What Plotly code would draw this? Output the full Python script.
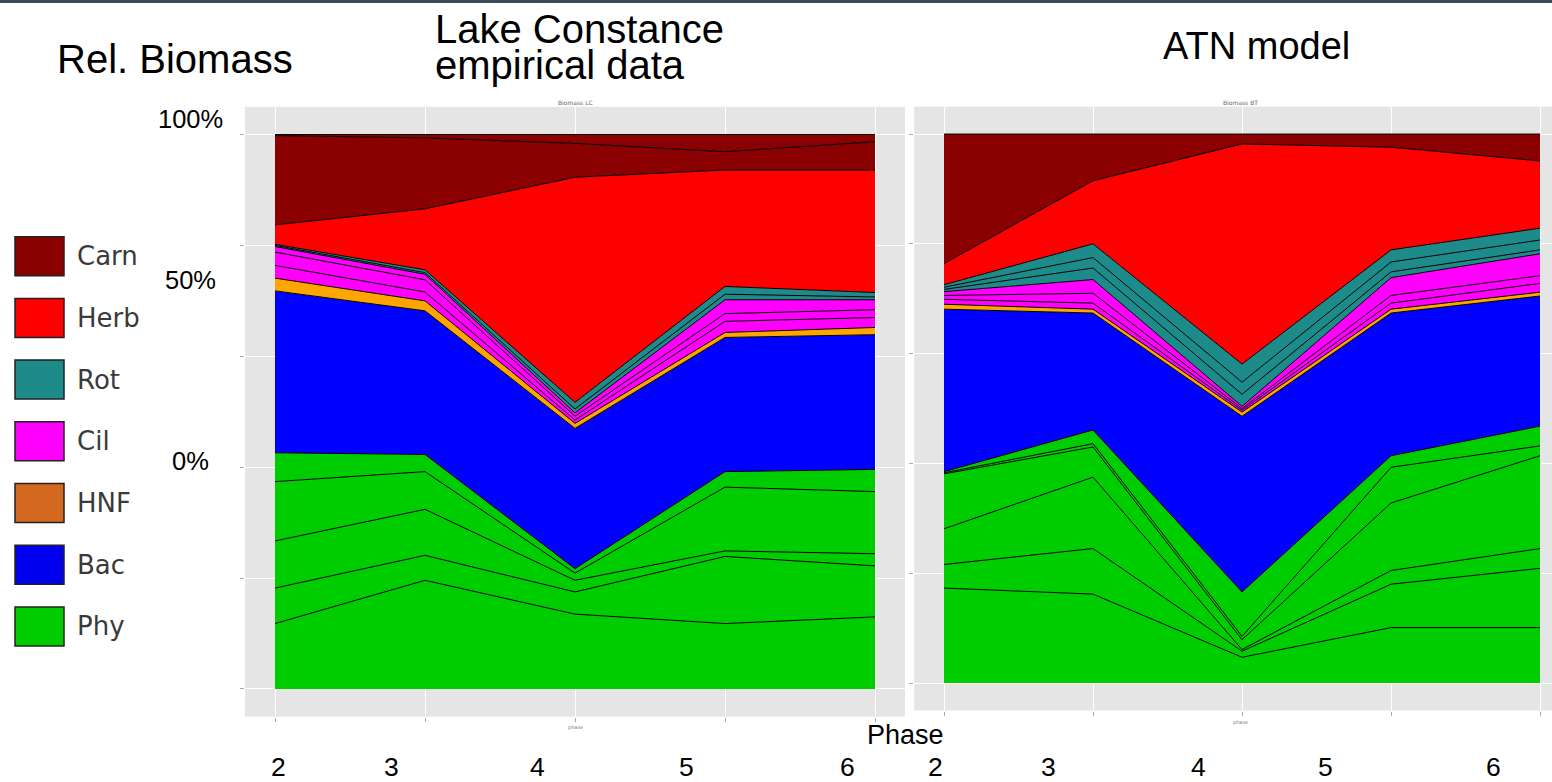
import plotly.graph_objects as go

# ---------------------------------------------------------------------------
# Data: relative biomass (%) of each sub-population, per phase.
# Each inner list is one stacked layer (bottom to top within its group).
# ---------------------------------------------------------------------------
phases = [2, 3, 4, 5, 6]
phase_labels = ["2", "3", "4", "5", "6"]
groups = ["Carn", "Herb", "Rot", "Cil", "HNF", "Bac", "Phy"]

# Lake Constance, empirical data
lc_phy = [
    [11.8, 19.6, 13.5, 11.8, 13.0],
    [6.4, 4.5, 4.0, 12.1, 9.2],
    [8.5, 8.3, 2.1, 1.0, 2.2],
    [10.7, 6.8, 1.3, 11.5, 11.2],
    [5.2, 3.1, 0.8, 2.8, 4.0],
]
lc_bac = [[29.2, 25.9, 25.3, 24.2, 24.3]]
lc_hnf = [[2.3, 1.8, 0.9, 0.9, 1.3]]
lc_cil = [
    [2.3, 1.6, 0.6, 2.0, 1.8],
    [2.4, 2.2, 0.7, 1.4, 1.4],
    [1.0, 1.0, 0.6, 2.5, 1.8],
]
lc_rot = [
    [0.2, 0.3, 0.7, 1.0, 0.5],
    [0.2, 0.5, 1.2, 1.4, 0.8],
]
lc_herb = [[3.5, 11.0, 40.6, 21.0, 22.1]]
lc_carn = [
    [16.1, 12.8, 6.1, 3.3, 5.1],
    [0.2, 0.6, 1.6, 3.1, 1.3],
]

# ATN model
atn_phy = [
    [17.3, 16.2, 4.7, 10.1, 10.1],
    [4.3, 8.3, 1.1, 7.9, 10.8],
    [6.5, 13.0, 0.3, 2.5, 3.6],
    [10.0, 5.5, 1.8, 12.3, 16.9],
    [0.2, 0.6, 0.6, 6.5, 1.8],
    [0.2, 2.5, 8.1, 2.1, 3.6],
]
atn_bac = [[29.6, 21.3, 32.0, 26.0, 23.7]]
atn_hnf = [[0.9, 0.7, 0.75, 0.7, 0.7]]
atn_cil = [
    [0.9, 1.1, 0.35, 1.1, 1.6],
    [0.7, 1.8, 0.3, 1.4, 1.4],
    [0.7, 2.5, 0.4, 3.25, 4.0],
]
atn_rot = [
    [0.4, 2.1, 2.2, 1.05, 0.7],
    [0.4, 1.9, 2.2, 1.8, 1.8],
    [0.45, 2.5, 3.3, 2.2, 2.15],
]
atn_herb = [[3.85, 11.5, 40.1, 18.7, 12.25]]
atn_carn = [[23.6, 8.5, 1.8, 2.4, 4.9]]

# ---------------------------------------------------------------------------
# Styling
# ---------------------------------------------------------------------------
W, H = 1552, 782
TEXT_FONT = "Liberation Sans, Arial, sans-serif"
LEGEND_FONT = "DejaVu Sans, Verdana, sans-serif"

fill_colors = {
    "Phy": "#00CD00",
    "Bac": "#0000FF",
    "HNF": "#FFA500",
    "Cil": "#FF00FF",
    "Rot": "#1E8B8B",
    "Herb": "#FF0000",
    "Carn": "#8B0000",
}
legend_colors = {
    "Carn": "#8B0000",
    "Herb": "#FF0000",
    "Rot": "#1E8B8B",
    "Cil": "#FF00FF",
    "HNF": "#D2691E",
    "Bac": "#0000EE",
    "Phy": "#00CC00",
}


def fx(px):
    return px / W


def fy(py):
    return 1 - py / H


fig = go.Figure()


def add_panel(layers, xa, ya, stack):
    first = True
    for name, rows in layers:
        for row in rows:
            fig.add_trace(go.Scatter(
                x=phases, y=row, mode="lines",
                stackgroup=stack,
                groupnorm="percent" if first else None,
                line=dict(color="black", width=1),
                fillcolor=fill_colors[name],
                xaxis=xa, yaxis=ya,
                name=name, showlegend=False, hoverinfo="skip",
            ))
            first = False


add_panel([("Phy", lc_phy), ("Bac", lc_bac), ("HNF", lc_hnf), ("Cil", lc_cil),
           ("Rot", lc_rot), ("Herb", lc_herb), ("Carn", lc_carn)], "x", "y", "lc")
add_panel([("Phy", atn_phy), ("Bac", atn_bac), ("HNF", atn_hnf), ("Cil", atn_cil),
           ("Rot", atn_rot), ("Herb", atn_herb), ("Carn", atn_carn)], "x2", "y2", "atn")

axis_common = dict(
    showticklabels=False, ticks="outside", ticklen=4, tickwidth=1,
    tickcolor="#A8A8A8", showgrid=True, gridcolor="white", gridwidth=1,
    zeroline=False, showline=False, fixedrange=True,
)

fig.update_layout(
    width=W, height=H, autosize=False,
    margin=dict(l=0, r=0, t=0, b=0),
    paper_bgcolor="white", plot_bgcolor="#E5E5E5",
    showlegend=False,
    xaxis=dict(domain=[fx(245), fx(905)], range=[1.8, 6.2], tickvals=phases,
               anchor="y", **axis_common),
    yaxis=dict(domain=[fy(716.7), fy(106.8)], range=[-5, 105], tick0=0, dtick=20,
               anchor="x", **axis_common),
    xaxis2=dict(domain=[fx(914.2), 1.0], range=[1.8, 6.08], tickvals=phases,
                anchor="y2", **axis_common),
    yaxis2=dict(domain=[fy(710.5), fy(106.6)], range=[-5, 105], tick0=0, dtick=20,
                anchor="x2", **axis_common),
)

shapes = []
annotations = []


def text(s, px, py, size, xanchor="center", family=TEXT_FONT, color="black"):
    annotations.append(dict(
        text=s, x=fx(px), y=fy(py), xref="paper", yref="paper",
        xanchor=xanchor, yanchor="middle", showarrow=False, borderpad=0,
        font=dict(family=family, size=size, color=color),
    ))


# thin dark band along the top edge of the slide
shapes.append(dict(type="rect", xref="paper", yref="paper",
                   x0=0, x1=1, y0=fy(3), y1=1,
                   fillcolor="#3D4B59", line=dict(width=0), layer="above"))

# headings
text("Rel. Biomass", 56, 58.7, 40, xanchor="left")
text("Lake Constance", 434, 28.5, 40, xanchor="left")
text("empirical data", 434, 65, 40, xanchor="left")
text("ATN model", 1162, 45.7, 38, xanchor="left")

# small panel titles and axis names
text("Biomass LC", 575, 102, 6, family="DejaVu Sans", color="#666")
text("Biomass BT", 1240, 102, 6, family="DejaVu Sans", color="#666")
text("phase", 575, 727, 5, family="DejaVu Sans", color="#777")
text("phase", 1240, 722, 5, family="DejaVu Sans", color="#777")

# percentage labels
for lbl, py in [("100%", 119.4), ("50%", 280.4), ("0%", 461.1)]:
    text(lbl, 190.5, py, 25.5)

# phase labels
text("Phase", 905, 735, 27)
label_x = [[278, 391, 537, 686, 848], [935, 1048, 1198, 1325, 1493]]
for xs in label_x:
    for lbl, px in zip(phase_labels, xs):
        text(lbl, px, 766.5, 26.5)

# group key
key_top = 236.7
key_step = 61.7
for i, g in enumerate(groups):
    y0 = key_top + i * key_step
    shapes.append(dict(type="rect", xref="paper", yref="paper",
                       x0=fx(15), x1=fx(64), y0=fy(y0 + 39), y1=fy(y0),
                       fillcolor=legend_colors[g],
                       line=dict(color="#222222", width=1.5)))
    text(g, 76, y0 + 19.5, 26, xanchor="left", family=LEGEND_FONT, color="#3A3A3A")

fig.update_layout(shapes=shapes, annotations=annotations)

fig.write_html("out.html")
